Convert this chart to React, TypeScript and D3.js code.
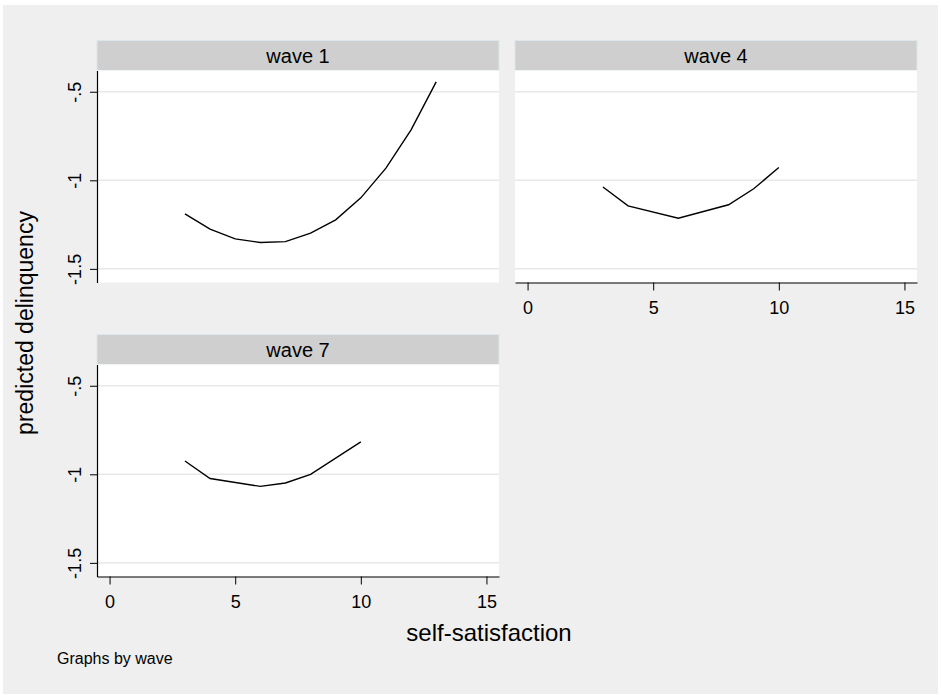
import React, { useRef, useEffect } from 'react';
import * as d3 from 'd3';

// values
const waves = ['wave 1', 'wave 4', 'wave 7'];
const wave1X = [3, 4, 5, 6, 7, 8, 9, 10, 11, 12, 13];
const wave1Y = [-1.189, -1.276, -1.331, -1.351, -1.346, -1.298, -1.223, -1.099, -0.931, -0.715, -0.444];
const wave4X = [3, 4, 6, 8, 9, 10];
const wave4Y = [-1.038, -1.144, -1.214, -1.138, -1.048, -0.928];
const wave7X = [3, 4, 6, 7, 8, 10];
const wave7Y = [-0.925, -1.024, -1.068, -1.049, -1.0, -0.817];
const xTicks = [0, 5, 10, 15];
const yTicks = [-0.5, -1, -1.5];

const seriesX = [wave1X, wave4X, wave7X];
const seriesY = [wave1Y, wave4Y, wave7Y];

const W = 941;
const H = 695;
const FONT = '"Liberation Sans", Arial, Helvetica, sans-serif';

const App = () => {
  const svgRef = useRef<SVGSVGElement | null>(null);

  useEffect(() => {
    const svg = d3.select(svgRef.current);
    svg.selectAll('*').remove();

    svg.append('rect')
      .attr('x', 3).attr('y', 5)
      .attr('width', 935).attr('height', 689)
      .attr('fill', '#efefef');

    const plotW = 402;
    const plotH = 212;
    const headH = 30;
    // panel layout: col, row, show y axis, show x axis
    const panels = [
      { col: 0, row: 0, yAxis: true, xAxis: false },
      { col: 1, row: 0, yAxis: false, xAxis: true },
      { col: 0, row: 1, yAxis: true, xAxis: true },
    ];
    const colX = [97, 515];
    const rowY = [70.5, 364.5];

    panels.forEach((p, i) => {
      const x0 = colX[p.col];
      const y0 = rowY[p.row];
      const g = svg.append('g').attr('transform', `translate(${x0},${y0})`);

      const xScale = d3.scaleLinear().domain([-0.5, 15.5]).range([0, plotW]);
      const yScale = d3.scaleLinear().domain([-1.577, -0.38]).range([plotH, 0]);

      // strip header
      g.append('rect')
        .attr('x', 0).attr('y', -headH)
        .attr('width', plotW).attr('height', headH)
        .attr('fill', '#cfcfcf')
        .attr('stroke', '#dde6ea').attr('stroke-width', 1);
      g.append('text')
        .attr('x', plotW / 2).attr('y', -headH / 2)
        .attr('dy', '0.35em')
        .attr('text-anchor', 'middle')
        .style('font-family', FONT).style('font-size', '20px')
        .attr('fill', '#000')
        .text(waves[i]);

      g.append('rect')
        .attr('width', plotW).attr('height', plotH)
        .attr('fill', '#ffffff');

      g.selectAll('.grid')
        .data(yTicks)
        .enter()
        .append('line')
        .attr('x1', 0).attr('x2', plotW)
        .attr('y1', d => yScale(d)).attr('y2', d => yScale(d))
        .attr('stroke', '#e8e8e8').attr('stroke-width', 1.5);

      const line = d3.line<number>()
        .x((d, k) => xScale(seriesX[i][k]))
        .y(d => yScale(d));

      g.append('path')
        .datum(seriesY[i])
        .attr('d', line)
        .attr('fill', 'none')
        .attr('stroke', '#000')
        .attr('stroke-width', 1.4);

      if (p.yAxis) {
        const ya = g.append('g')
          .call(d3.axisLeft(yScale).tickValues(yTicks).tickSize(7).tickSizeOuter(0)
            .tickFormat(d => (d === -0.5 ? '-.5' : String(d))));
        ya.select('.domain').attr('stroke', '#000').attr('stroke-width', 1.2);
        ya.selectAll('.tick line').attr('stroke', '#000').attr('stroke-width', 1);
        ya.selectAll('.tick text')
          .attr('x', null).attr('dy', null)
          .attr('transform', 'translate(-22,0) rotate(-90)')
          .attr('text-anchor', 'middle')
          .attr('dominant-baseline', 'central')
          .attr('fill', '#000')
          .style('font-family', FONT).style('font-size', '18px');
      }

      if (p.xAxis) {
        const xa = g.append('g')
          .attr('transform', `translate(0,${plotH})`)
          .call(d3.axisBottom(xScale).tickValues(xTicks).tickSize(8).tickSizeOuter(0));
        xa.select('.domain').attr('stroke', '#000').attr('stroke-width', 1.2);
        xa.selectAll('.tick line').attr('stroke', '#000').attr('stroke-width', 1);
        xa.selectAll('.tick text')
          .attr('y', 25).attr('dy', '0.35em')
          .attr('fill', '#000')
          .style('font-family', FONT).style('font-size', '18px');
      }
    });

    svg.append('text')
      .attr('transform', 'translate(33,323) rotate(-90)')
      .attr('text-anchor', 'middle')
      .style('font-family', FONT).style('font-size', '23px')
      .text('predicted delinquency');

    svg.append('text')
      .attr('x', 489).attr('y', 641)
      .attr('text-anchor', 'middle')
      .style('font-family', FONT).style('font-size', '24px')
      .text('self-satisfaction');

    svg.append('text')
      .attr('x', 57).attr('y', 664)
      .style('font-family', FONT).style('font-size', '16px')
      .text('Graphs by wave');
  }, []);

  return (
    <svg
      ref={svgRef}
      width={W}
      height={H}
      style={{ position: 'absolute', left: 0, top: 0, display: 'block', background: '#fff' }}
    />
  );
};

export default App;
